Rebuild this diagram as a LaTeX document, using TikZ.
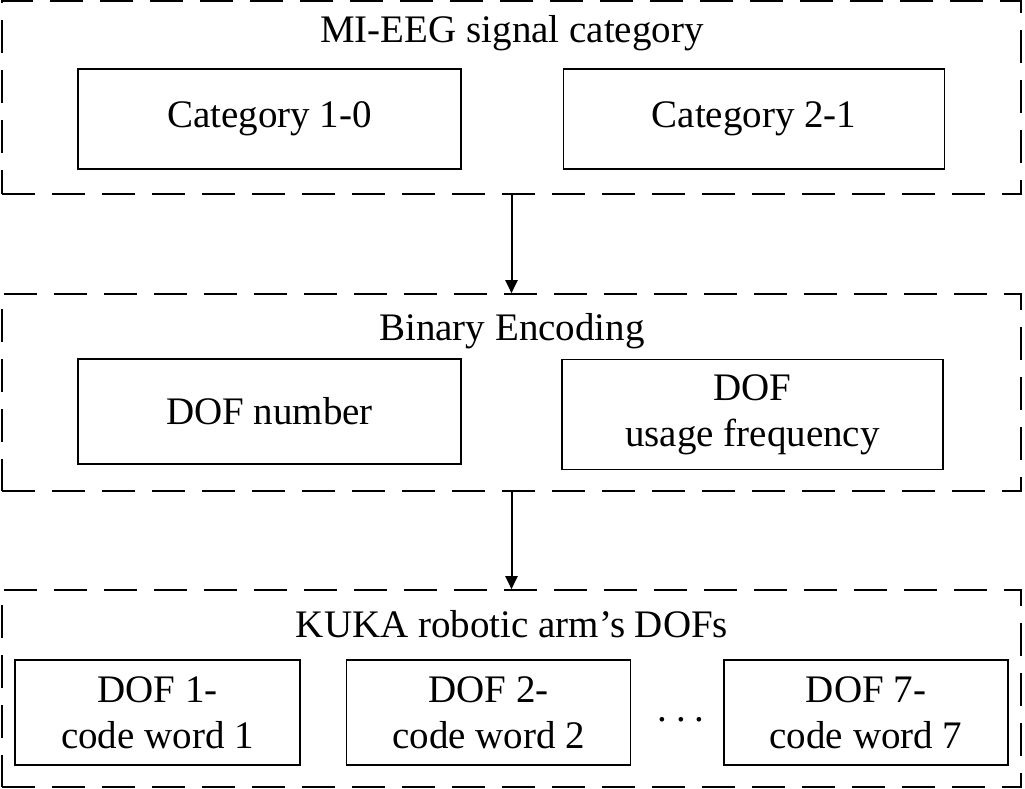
\documentclass[tikz,border=0pt]{standalone}
\usepackage{fontspec}
\setmainfont{Liberation Serif}
\usetikzlibrary{arrows.meta,positioning}

\begin{document}
\begin{tikzpicture}[x=1pt,y=-1pt,line width=1.6pt,
    font=\fontsize{39}{46}\selectfont,
    grp/.style={draw,dash pattern=on 33pt off 17pt,minimum width=1019pt,
      minimum height=197pt,inner sep=0pt},
    blk/.style={draw,align=center,inner sep=0pt,minimum height=105pt},
    ttl/.style={anchor=base,inner sep=0pt}]
 \useasboundingbox (0,0) rectangle (1025,789);
 % dashed groups
 \node[grp,minimum height=193pt] (SIG) at (511.5,97.5) {};
 \node[grp] (ENC) at (511.5,392.5) {};
 \node[grp] (DOF) at (511.5,688.5) {};
 \node[ttl] (SIGt) at (512,43) {MI-EEG signal category};
 \node[ttl] (ENCt) at (512,340) {Binary Encoding};
 \node[ttl] (DOFt) at (512,637) {KUKA robotic arm's DOFs};
 % inner boxes
 \node[blk,minimum width=383pt,minimum height=100pt] (C1) at (269.5,119) {Category 1-0};
 \node[blk,minimum width=381pt,minimum height=100pt,right=101pt of C1] (C2) {Category 2-1};
 \node[blk,minimum width=383pt] (NUM) at (269.5,411.5) {DOF number};
 \node[blk,minimum width=381pt,minimum height=110pt] (USE) at (752.5,414.5) {DOF\\usage frequency};
 \node[blk,minimum width=285pt] (D1) at (157.5,712.5) {DOF 1-\\code word 1};
 \node[blk,minimum width=284pt,right=45pt of D1] (D2) {DOF 2-\\code word 2};
 \node[blk,minimum width=284pt] (D7) at (866,712.5) {DOF 7-\\code word 7};
 \node (dots) at (681,720) {.\hspace{9pt}.\hspace{9pt}.};
 \path[line width=2pt,-{Triangle[length=13pt,width=12pt]}]
   (SIG.south) edge (ENC.north)
   (ENC.south) edge (DOF.north);
\end{tikzpicture}
\end{document}
